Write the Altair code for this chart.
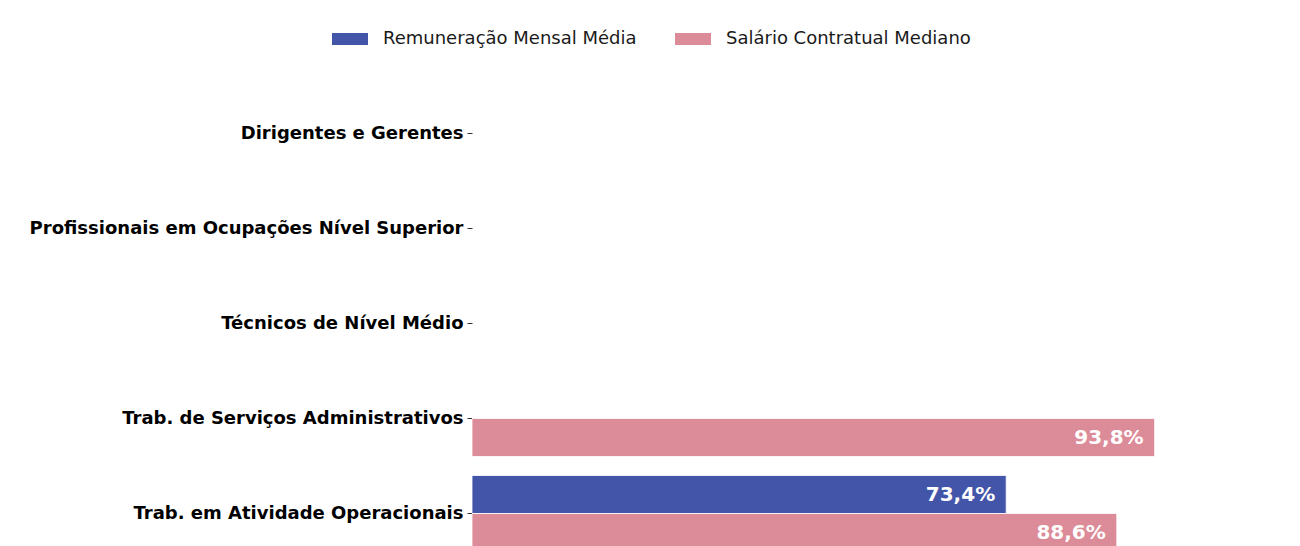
import altair as alt
import pandas as pd

categories = [
    "Dirigentes e Gerentes",
    "Profissionais em Ocupações Nível Superior",
    "Técnicos de Nível Médio",
    "Trab. de Serviços Administrativos",
    "Trab. em Atividade Operacionais",
]
series = ["Remuneração Mensal Média", "Salário Contratual Mediano"]
remuneracao = [None, None, None, None, 73.4]
salario = [None, None, None, 93.8, 88.6]
colors = ["#4355a9", "#dc8b98"]

rows = []
for cat, r, s in zip(categories, remuneracao, salario):
    for name, v in ((series[0], r), (series[1], s)):
        if v is not None:
            rows.append({"cat": cat, "serie": name, "valor": v,
                         "rotulo": f"{v:.1f}%".replace(".", ",")})
df = pd.DataFrame(rows)

FONT = "DejaVu Sans"

base = alt.Chart(df).encode(
    y=alt.Y(
        "cat:N",
        sort=categories,
        scale=alt.Scale(domain=categories, range=[0, 475], paddingInner=0.2, paddingOuter=0.1),
        axis=alt.Axis(
            title=None, domain=False, ticks=True, tickSize=5, tickColor="#000",
            tickWidth=0.8, labelFont=FONT, labelFontWeight="bold", labelFontSize=18,
            labelColor="#000", labelPadding=4, labelLimit=0, grid=False,
        ),
    ),
    yOffset=alt.YOffset("serie:N", scale=alt.Scale(domain=series, paddingInner=0, paddingOuter=0)),
    x=alt.X("valor:Q", scale=alt.Scale(domain=[0, 112.4]), axis=None),
)

bars = base.mark_bar(clip=True, stroke="white", strokeWidth=0.8).encode(
    color=alt.Color(
        "serie:N",
        scale=alt.Scale(domain=series, range=colors),
        legend=alt.Legend(
            title=None, orient="none", legendX=-140, legendY=-65,
            direction="horizontal",
            symbolType="M-1,-0.33L1,-0.33L1,0.33L-1,0.33Z",
            symbolSize=1296, symbolStrokeWidth=0, symbolOpacity=1,
            labelFont=FONT, labelFontSize=18, labelColor="#1a1a1a",
            labelOffset=15, columnPadding=38, labelLimit=0,
        ),
    )
)

text = base.mark_text(
    align="right", baseline="middle", dx=-11, color="white",
    font=FONT, fontWeight="bold", fontSize=20,
).encode(text="rotulo:N")

chart = (
    alt.layer(bars, text)
    .properties(
        width=818, height=460,
        autosize=alt.AutoSizeParams(type="none"),
        padding={"left": 464, "top": 78, "right": 2, "bottom": 0},
        background="white",
    )
    .configure_view(stroke=None)
)

chart.save("out.html", embed_options={"renderer": "svg", "actions": False})
